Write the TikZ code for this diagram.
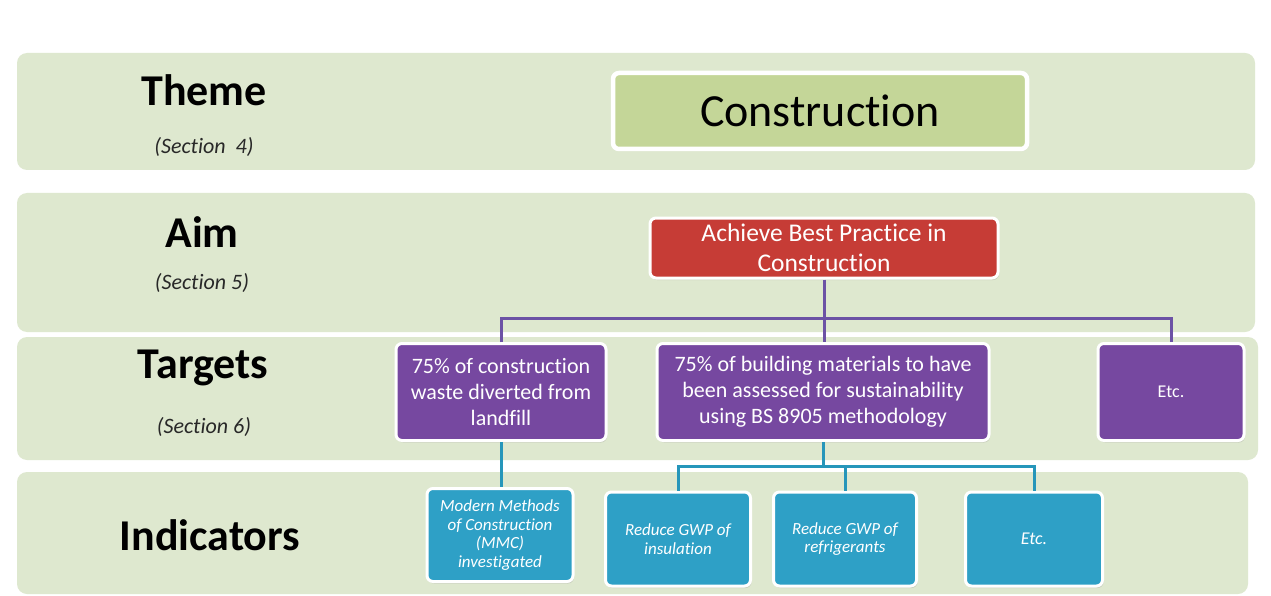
\documentclass[tikz,border=0pt]{standalone}
\usepackage{fontspec}
\setmainfont{Carlito}[Ligatures=NoCommon]
\usetikzlibrary{shadows}
\definecolor{bandc}{RGB}{222,232,207}
\definecolor{themec}{RGB}{196,214,152}
\definecolor{aimc}{RGB}{198,60,54}
\definecolor{purc}{RGB}{118,72,160}
\definecolor{tealc}{RGB}{46,160,198}
\definecolor{purl}{RGB}{108,82,165}
\definecolor{teall}{RGB}{38,150,186}
\definecolor{subtxt}{RGB}{40,40,40}
\tikzset{
  band/.style={fill=bandc, draw=none, rounded corners=10pt},
  rowtitle/.style={font=\fontsize{44}{48}\selectfont\bfseries, text=black, anchor=center},
  rowsub/.style={font=\fontsize{22}{26}\selectfont\itshape, text=subtxt, anchor=center},
  boxbase/.style={draw=white, line width=3pt, rounded corners=6pt, align=center, inner sep=2pt,
    drop shadow={shadow xshift=1pt, shadow yshift=-2pt, opacity=0.25, fill=gray}},
  themebox/.style={boxbase, fill=themec, line width=4.5pt, text=black, font=\fontsize{46}{50}\selectfont},
  aimbox/.style={boxbase, fill=aimc, text=white, font=\fontsize{25.5}{30}\selectfont},
  tgtbox/.style={boxbase, fill=purc, text=white, font=\fontsize{22}{26}\selectfont},
  indbox/.style={boxbase, fill=tealc, text=white, font=\fontsize{17}{18.5}\selectfont\itshape},
  purline/.style={draw=purl, line width=3pt},
  tealline/.style={draw=teall, line width=3pt}
}
\begin{document}
\begin{tikzpicture}[x=1pt,y=-1pt]
\useasboundingbox (0,0) rectangle (1271,596);
\fill[white] (0,0) rectangle (1271,596);
% bands
\fill[band] (17,53) rectangle (1255,170);
\fill[band] (17,193) rectangle (1255,332);
\fill[band] (17,337) rectangle (1258,460);
\fill[band] (17,472) rectangle (1248,594);
% row titles
\node[rowtitle] (themet) at (204,90) {Theme};
\node[rowsub] (themes) at (204,147) {(Section\ \ 4)};
\node[rowtitle] (aimt) at (202,232) {Aim};
\node[rowsub] (aims) at (202,283) {(Section 5)};
\node[rowtitle] (tgtt) at (203,368) {Targets};
\node[rowsub] (tgts) at (204,427) {(Section 6)};
\node[rowtitle] (indt) at (210,535) {Indicators};
% boxes
\node[themebox, minimum width=414pt, minimum height=76pt] (theme) at (820,111) {Construction};
\node[aimbox, minimum width=348pt, minimum height=60pt] (aim) at (824,248) {Achieve Best Practice in\\Construction};
\node[tgtbox, minimum width=210pt, minimum height=97pt] (t1) at (501,392) {75\% of construction\\waste diverted\ from\\landfill};
\node[tgtbox, minimum width=332pt, minimum height=97pt] (t2) at (823,392) {75\% of building materials to have\\been assessed for sustainability\\using BS 8905 methodology};
\node[tgtbox, minimum width=146pt, minimum height=97pt, font=\fontsize{18}{21}\selectfont] (t3) at (1171,392) {Etc.};
\node[indbox, minimum width=146pt, minimum height=93pt] (i1) at (500,535) {Modern Methods\\of Construction\\(MMC)\\investigated};
\node[indbox, minimum width=145pt, minimum height=94pt] (i2) at (678,539) {Reduce GWP of\\insulation};
\node[indbox, minimum width=143pt, minimum height=94pt] (i3) at (845,539) {Reduce GWP of\\refrigerants};
\node[indbox, minimum width=137pt, minimum height=94pt, font=\fontsize{18}{21}\selectfont\itshape] (i4) at (1034,539) {Etc.};
% connectors
\coordinate (pj) at (824,318);
\coordinate (tj) at (823,466);
\draw[purline] (aim.south) -- (aim.south |- t2.north);
\draw[purline] (t1.north) |- (pj) -| (t3.north);
\draw[tealline] (t1.south) -- (t1.south |- i1.north);
\draw[tealline] (t2.south) -- (tj);
\draw[tealline] (i2.north) |- (tj) -| (i4.north);
\draw[tealline] (i3.north) -- (i3.north |- tj);
\end{tikzpicture}
\end{document}
